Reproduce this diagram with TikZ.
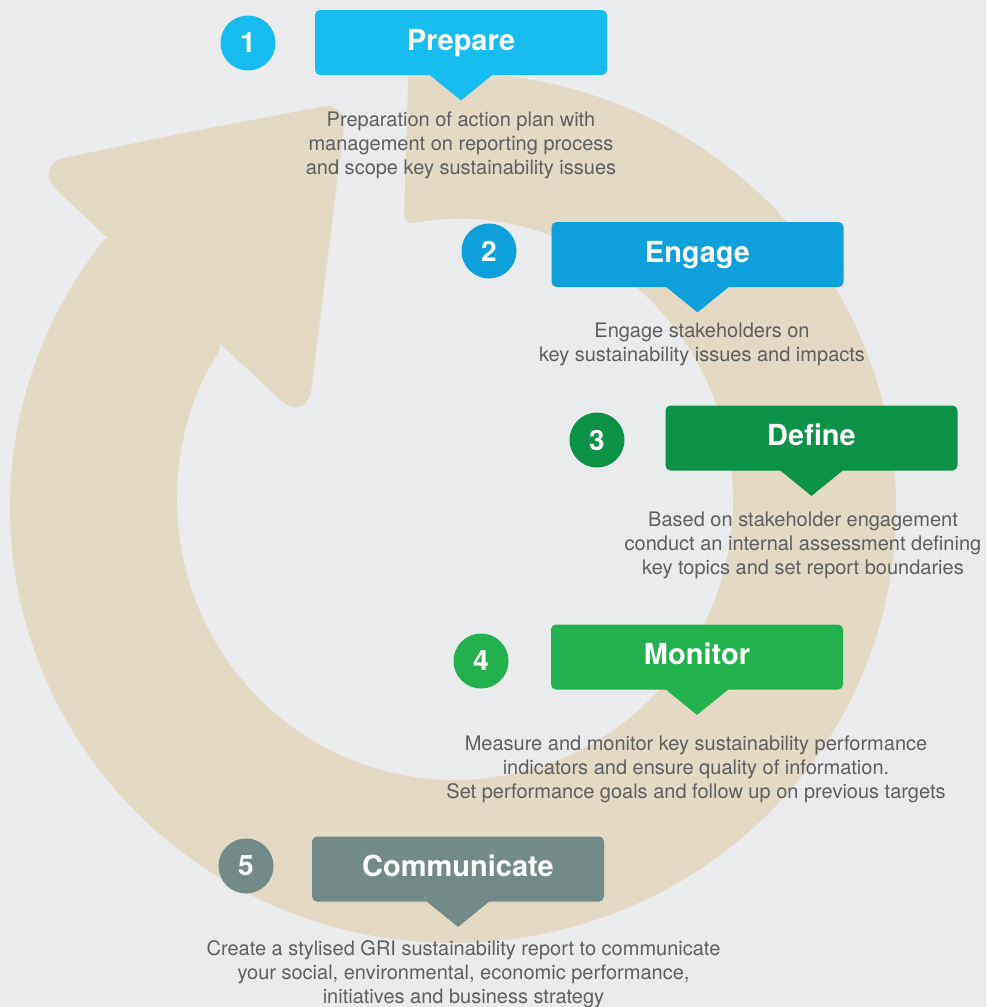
\documentclass[tikz,border=0pt]{standalone}
\usepackage{fontspec}
\setmainfont{TeX Gyre Heros}
\usetikzlibrary{positioning}
\definecolor{backgray}{HTML}{EAEBED}
\definecolor{loopbeige}{HTML}{E3D9C5}
\definecolor{prepblue}{HTML}{16BDEE}
\definecolor{engageblue}{HTML}{0EA0DA}
\definecolor{definegreen}{HTML}{0B9148}
\definecolor{monitorgreen}{HTML}{22B14C}
\definecolor{commgray}{HTML}{738A89}
\definecolor{textgray}{HTML}{5E5F61}
\tikzset{stepbox/.style = {rectangle, rounded corners = 2.5pt, minimum width = 146pt,
                           minimum height = 32.5pt, inner sep = 0, text = white,
                           text height = 10.5pt, text depth = 3pt,
                           font = \fontsize{14.5}{17}\selectfont\bfseries}}
\tikzset{stepnum/.style = {circle, minimum size = 27.5pt, inner sep = 0, text = white,
                           font = \fontsize{14}{16}\selectfont\bfseries}}
\tikzset{steptext/.style = {align = center, inner sep = 0, anchor = north, text = textgray,
                            font = \fontsize{10}{12}\selectfont}}
\newcommand{\steppointer}[2]{\fill [#2] ([xshift = -16pt, yshift = 0.5pt]#1.south)
  -- ([xshift = 16pt, yshift = 0.5pt]#1.south) -- ([yshift = -12.5pt]#1.south) -- cycle;}

\begin{document}
\begin{tikzpicture}[x = 0.5pt, y = -0.5pt]
      \fill [backgray] (0, 0) rectangle (986, 1007);
      \useasboundingbox (0, 0) rectangle (986, 1007);
      \fill [loopbeige] (200, 250) -- (104.9, 238.9)
        arc [start angle = 578.2, end angle = 264.2, x radius = 443, y radius = 435]
        [rounded corners = 5pt] -- (403.9, 224.8)
        arc [start angle = 259.4, end angle = 573, x radius = 278, y radius = 280] [sharp corners] -- cycle;
      \fill [loopbeige] (186, 132.5) [rounded corners = 12.5pt] -- (347, 102) -- (327, 263.5)
        [rounded corners = 19pt] -- (307, 425) -- (30, 165) -- cycle;
      \node [steptext] (preptext) at (461, 111) {Preparation of action plan with\\management on reporting process\\and scope key sustainability issues};
      \node [steptext] (engagetext) at (702, 323) {Engage stakeholders on\\key sustainability issues and impacts};
      \node [steptext] (definetext) at (803, 512) {Based on stakeholder engagement\\conduct an internal assessment defining\\key topics and set report boundaries};
      \node [steptext] (monitortext) at (696, 735) {Measure and monitor key sustainability performance\\indicators and ensure quality of information.\\Set performance goals and follow up on previous targets};
      \node [steptext] (commtext) at (463.5, 940) {Create a stylised GRI sustainability report to communicate\\your social, environmental, economic performance,\\initiatives and business strategy};
      \node [stepbox, fill = prepblue] (prep) at (461, 42.5) {Prepare};
      \node [stepbox, fill = engageblue] (engage) at (697.5, 254.5) {Engage};
      \node [stepbox, fill = definegreen] (define) at (811.5, 438) {Define};
      \node [stepbox, fill = monitorgreen] (monitor) at (697, 657) {Monitor};
      \node [stepbox, fill = commgray] (comm) at (458, 869) {Communicate};
      \steppointer{prep}{prepblue}
      \steppointer{engage}{engageblue}
      \steppointer{define}{definegreen}
      \steppointer{monitor}{monitorgreen}
      \steppointer{comm}{commgray}
      \node [stepnum, fill = prepblue] (num1) at (248, 43) {1};
      \node [stepnum, fill = engageblue] (num2) at (489, 251) {2};
      \node [stepnum, fill = definegreen] (num3) at (597, 440) {3};
      \node [stepnum, fill = monitorgreen] (num4) at (481, 661) {4};
      \node [stepnum, fill = commgray] (num5) at (246, 866) {5};
    \end{tikzpicture}
\end{document}
